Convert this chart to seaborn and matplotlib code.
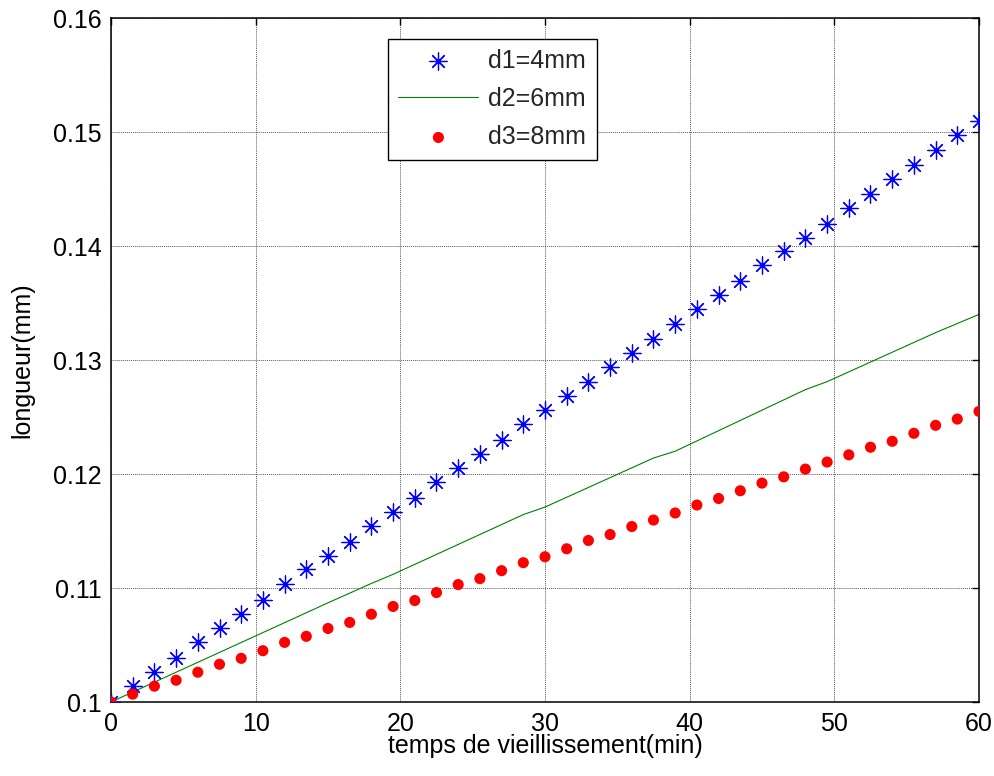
import numpy as np
import pandas as pd
import matplotlib
matplotlib.use("Agg")
import matplotlib.pyplot as plt
import seaborn as sns

# Aging time (min), sampled every 1.5 min for the marker series
temps = [0, 1.5, 3, 4.5, 6, 7.5, 9, 10.5, 12, 13.5, 15, 16.5, 18, 19.5, 21,
         22.5, 24, 25.5, 27, 28.5, 30, 31.5, 33, 34.5, 36, 37.5, 39, 40.5,
         42, 43.5, 45, 46.5, 48, 49.5, 51, 52.5, 54, 55.5, 57, 58.5, 60]

# d1 = 4 mm
longueur_d1 = [0.1000, 0.10144, 0.10266, 0.10386, 0.10523, 0.10648, 0.10770,
               0.10895, 0.11038, 0.11163, 0.11277, 0.11402, 0.11541, 0.11664,
               0.11790, 0.11926, 0.12052, 0.12174, 0.12299, 0.12438, 0.12561,
               0.12683, 0.12803, 0.12939, 0.13061, 0.13183, 0.13312, 0.13449,
               0.13571, 0.13690, 0.13831, 0.13952, 0.14074, 0.14197, 0.14336,
               0.14459, 0.14584, 0.14709, 0.14840, 0.14971, 0.15093]

# d2 = 6 mm (continuous curve)
temps_d2 = [0, 10, 15, 18, 19.5, 28.5, 30, 37.5, 39, 40.5, 45, 48, 49.5, 57,
            58.5, 60]
longueur_d2 = [0.1000, 0.1058, 0.1087, 0.1104, 0.1112, 0.11644, 0.1171,
               0.1214, 0.1220, 0.1229, 0.1256, 0.1274, 0.1281, 0.1324,
               0.1332, 0.1340]

# d3 = 8 mm
longueur_d3 = [0.1000, 0.10069, 0.10139, 0.10191, 0.10261, 0.10331, 0.10383,
               0.10450, 0.10523, 0.10576, 0.10645, 0.10698, 0.10770, 0.10838,
               0.10890, 0.10960, 0.11030, 0.11082, 0.11152, 0.11222, 0.11274,
               0.11344, 0.11417, 0.11469, 0.11539, 0.11596, 0.11658, 0.11728,
               0.11785, 0.11853, 0.11920, 0.11975, 0.12043, 0.12105, 0.12168,
               0.12235, 0.12287, 0.12357, 0.12427, 0.12482, 0.12549]

x_ticks = [0, 10, 20, 30, 40, 50, 60]
y_ticks = [0.10, 0.11, 0.12, 0.13, 0.14, 0.15, 0.16]
y_tick_labels = ["0.1", "0.11", "0.12", "0.13", "0.14", "0.15", "0.16"]

sns.set_theme(style="white")
plt.rcParams["font.family"] = ["Liberation Sans", "DejaVu Sans"]

df1 = pd.DataFrame({"t": temps, "L": longueur_d1})
df2 = pd.DataFrame({"t": temps_d2, "L": longueur_d2})
df3 = pd.DataFrame({"t": temps, "L": longueur_d3})

fig = plt.figure(figsize=(9.95, 7.76), dpi=100)
ax = fig.add_axes([111 / 995, 1 - 702 / 776, 868 / 995, 684 / 776])

sns.scatterplot(data=df1, x="t", y="L", ax=ax, marker=(8, 2, 0), s=150,
                color="#0000ff", edgecolor="#0000ff", linewidth=0.9,
                label="d1=4mm", zorder=3)
sns.lineplot(data=df2, x="t", y="L", ax=ax, color=(0, 0.5, 0), linewidth=0.8,
             label="d2=6mm", zorder=2)
sns.scatterplot(data=df3, x="t", y="L", ax=ax, marker="o", s=64,
                color="#ff0000", edgecolor="none", linewidth=0,
                label="d3=8mm", zorder=3)

ax.set_xlim(0, 60)
ax.set_ylim(0.10, 0.16)
ax.set_xticks(x_ticks)
ax.set_xticklabels([str(v) for v in x_ticks])
ax.set_yticks(y_ticks)
ax.set_yticklabels(y_tick_labels)

ax.grid(True, color="0.35", linestyle=(0, (1, 1)), linewidth=0.7)
ax.set_axisbelow(True)
for side in ax.spines.values():
    side.set_color("black")
    side.set_linewidth(1.1)

ax.tick_params(axis="both", which="major", direction="in", length=5,
               width=1.0, color="black", top=True, right=True,
               labelsize=18, labelcolor="black")
ax.tick_params(axis="x", pad=7)
ax.tick_params(axis="y", pad=7)

ax.set_xlabel("temps de vieillissement(min)", fontsize=18, color="black",
              labelpad=-1)
ax.set_ylabel("longueur(mm)", fontsize=18, color="black", labelpad=13)

leg = ax.legend(loc="upper left", bbox_to_anchor=(0.319, 0.970),
                borderaxespad=0, fontsize=18, frameon=True, fancybox=False,
                framealpha=1, edgecolor="black", handlelength=3.2,
                handletextpad=0.4, borderpad=0.42, labelspacing=0.56)
leg.get_frame().set_linewidth(1.0)

fig.savefig("out.png", dpi=100, facecolor="white")
